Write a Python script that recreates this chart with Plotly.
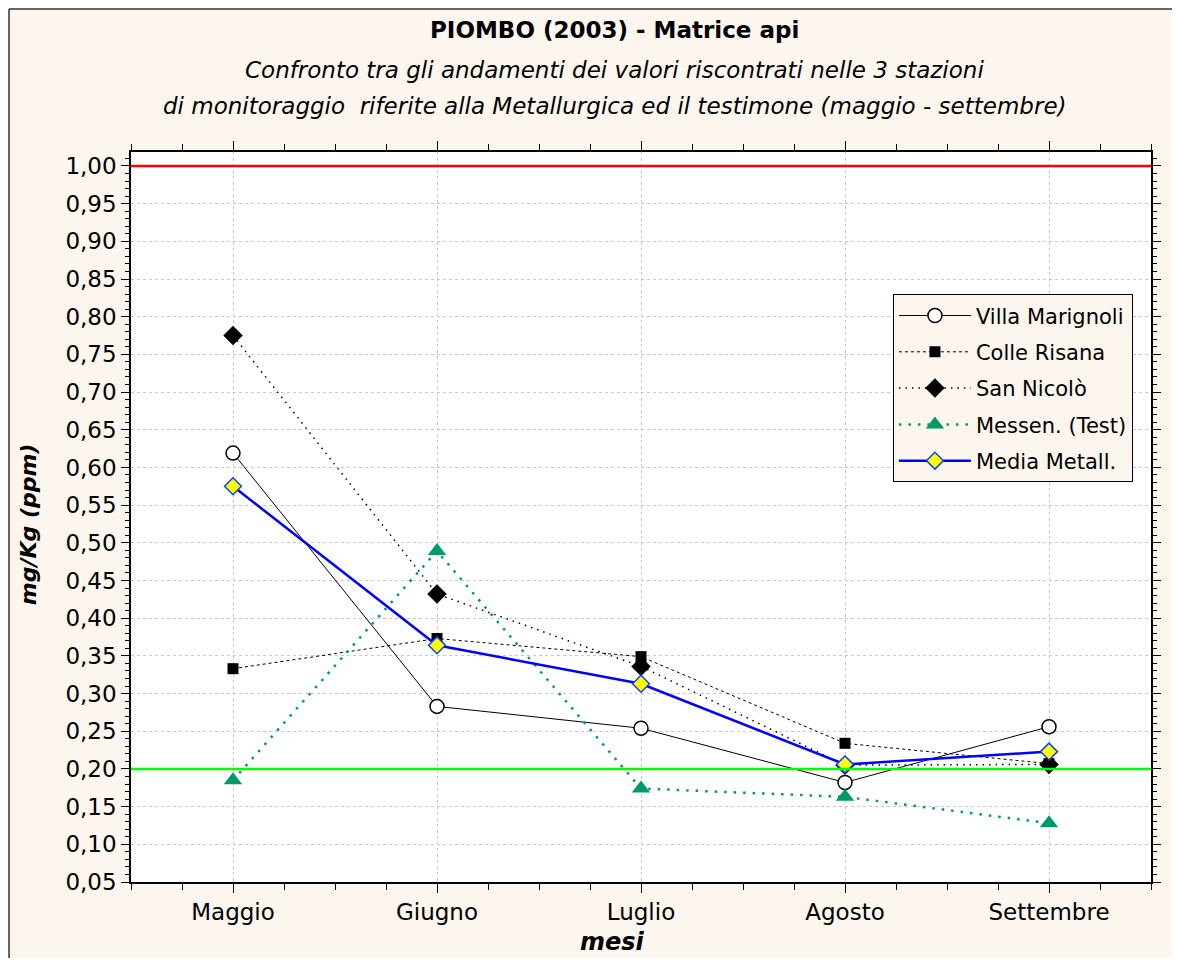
import plotly.graph_objects as go

mesi = ["Maggio", "Giugno", "Luglio", "Agosto", "Settembre"]

villa_marignoli = [0.619, 0.283, 0.254, 0.182, 0.256]
colle_risana = [0.333, 0.373, 0.349, 0.234, 0.207]
san_nicolo = [0.775, 0.432, 0.336, 0.205, 0.206]
messen_test = [0.185, 0.489, 0.174, 0.163, 0.128]
media_metall = [0.575, 0.364, 0.313, 0.206, 0.223]

limite_alto = 1.00
limite_basso = 0.20

y_ticks = [0.05, 0.10, 0.15, 0.20, 0.25, 0.30, 0.35, 0.40, 0.45, 0.50,
           0.55, 0.60, 0.65, 0.70, 0.75, 0.80, 0.85, 0.90, 0.95, 1.00]

PEACH = "#fdf6ef"
FONT = "DejaVu Sans"
x_idx = list(range(len(mesi)))

fig = go.Figure()

fig.add_trace(go.Scatter(
    x=x_idx, y=villa_marignoli, name="Villa Marignoli", mode="lines+markers",
    line=dict(color="black", width=1),
    marker=dict(symbol="circle", size=14, color="white", line=dict(color="black", width=1.5)),
    legendgroup="a"))
fig.add_trace(go.Scatter(
    x=x_idx, y=colle_risana, name="Colle Risana", mode="lines+markers",
    line=dict(color="black", width=1, dash="3px,3px"),
    marker=dict(symbol="square", size=11, color="black"),
    legendgroup="b"))
fig.add_trace(go.Scatter(
    x=x_idx, y=san_nicolo, name="San Nicolò", mode="lines+markers",
    line=dict(color="black", width=1.5, dash="1.5px,5px"),
    marker=dict(symbol="diamond", size=15, color="black"),
    legendgroup="c"))
fig.add_trace(go.Scatter(
    x=x_idx, y=messen_test, name="Messen. (Test)", mode="lines+markers",
    line=dict(color="#009a6a", width=2.5, dash="2.5px,7px"),
    marker=dict(symbol="triangle-up", size=16, color="#009a6a"),
    legendgroup="d"))
fig.add_trace(go.Scatter(
    x=x_idx, y=media_metall, name="Media Metall.", mode="lines+markers",
    line=dict(color="#0000ff", width=2.5),
    marker=dict(symbol="diamond", size=13, color="#ffff00", line=dict(color="#1040ff", width=1.5)),
    legendgroup="e"))

# sfondo della cornice esterna e dell'area del grafico
fig.add_shape(type="rect", xref="paper", yref="paper", x0=-0.1196, x1=1.03, y0=-0.14, y1=1.1960,
              fillcolor=PEACH, line=dict(width=0), layer="below")
fig.add_shape(type="line", xref="paper", yref="paper", x0=-0.1196, x1=1.03, y0=1.1960, y1=1.1960,
              line=dict(color="#333333", width=1.5), layer="below")
fig.add_shape(type="line", xref="paper", yref="paper", x0=-0.1196, x1=-0.1196, y0=-0.14, y1=1.1960,
              line=dict(color="#333333", width=1.5), layer="below")
fig.add_shape(type="rect", xref="paper", yref="paper", x0=0, x1=1, y0=0, y1=1,
              fillcolor="white", line=dict(width=0), layer="below")

# linee di riferimento
for val, col in [(limite_alto, "#ff0000"), (limite_basso, "#00ff00")]:
    fig.add_shape(type="line", xref="paper", yref="y", x0=0, x1=1, y0=val, y1=val,
                  line=dict(color=col, width=2.5))

testi = [
    ("<b>PIOMBO (2003) - Matrice api</b>", 1.167, 23),
    ("<i>Confronto tra gli andamenti dei valori riscontrati nelle 3 stazioni</i>", 1.112, 23),
    ("<i>di monitoraggio  riferite alla Metallurgica ed il testimone (maggio - settembre)</i>", 1.063, 23),
]
for testo, ypos, size in testi:
    fig.add_annotation(text=testo, xref="paper", yref="paper", x=0.4745, y=ypos,
                       xanchor="center", yanchor="middle", showarrow=False,
                       font=dict(family=FONT, size=size, color="black"))

fig.add_annotation(text="<b><i>mg/Kg (ppm)</i></b>", xref="paper", yref="paper", x=-0.101, y=0.49,
                   xanchor="center", yanchor="middle", textangle=-90, showarrow=False,
                   font=dict(family=FONT, size=22, color="black"))
fig.add_annotation(text="<b><i>mesi</i></b>", xref="paper", yref="paper", x=0.472, y=-0.082,
                   xanchor="center", yanchor="middle", showarrow=False,
                   font=dict(family=FONT, size=24, color="black"))

# dimensioni ridotte per evitare barre di scorrimento (margine del body di 8px)
fig.update_layout(
    width=1164, height=950,
    margin=dict(l=123, r=21, t=144, b=76),
    paper_bgcolor="white", plot_bgcolor="rgba(0,0,0,0)",
    font=dict(family=FONT, size=23, color="black"),
    showlegend=True,
    legend=dict(x=0.747, y=0.805, xanchor="left", yanchor="top",
                bgcolor=PEACH, bordercolor="black", borderwidth=1, itemwidth=72,
                font=dict(family=FONT, size=21), tracegroupgap=6, traceorder="grouped"),
    xaxis=dict(range=[-0.5, 4.5], tickvals=x_idx, ticktext=mesi,
               showline=True, linecolor="black", linewidth=1.5, mirror="ticks",
               ticks="outside", ticklen=9, tickcolor="black", ticklabelstandoff=0,
               showgrid=True, gridcolor="#c8c8c8", griddash="dot", gridwidth=1, zeroline=False,
               minor=dict(ticks="outside", dtick=0.25, tick0=0, ticklen=6, tickcolor="black", showgrid=False)),
    yaxis=dict(range=[0.05, 1.0185], tickvals=y_ticks,
               ticktext=[f"{v:.2f}".replace(".", ",") for v in y_ticks],
               showline=True, linecolor="black", linewidth=1.5, mirror="ticks",
               ticks="outside", ticklen=8, tickcolor="black",
               showgrid=True, gridcolor="#c8c8c8", griddash="dot", gridwidth=1, zeroline=False,
               minor=dict(ticks="outside", dtick=0.01, tick0=0, ticklen=4, tickcolor="black", showgrid=False)),
)

fig.write_html("out.html")
